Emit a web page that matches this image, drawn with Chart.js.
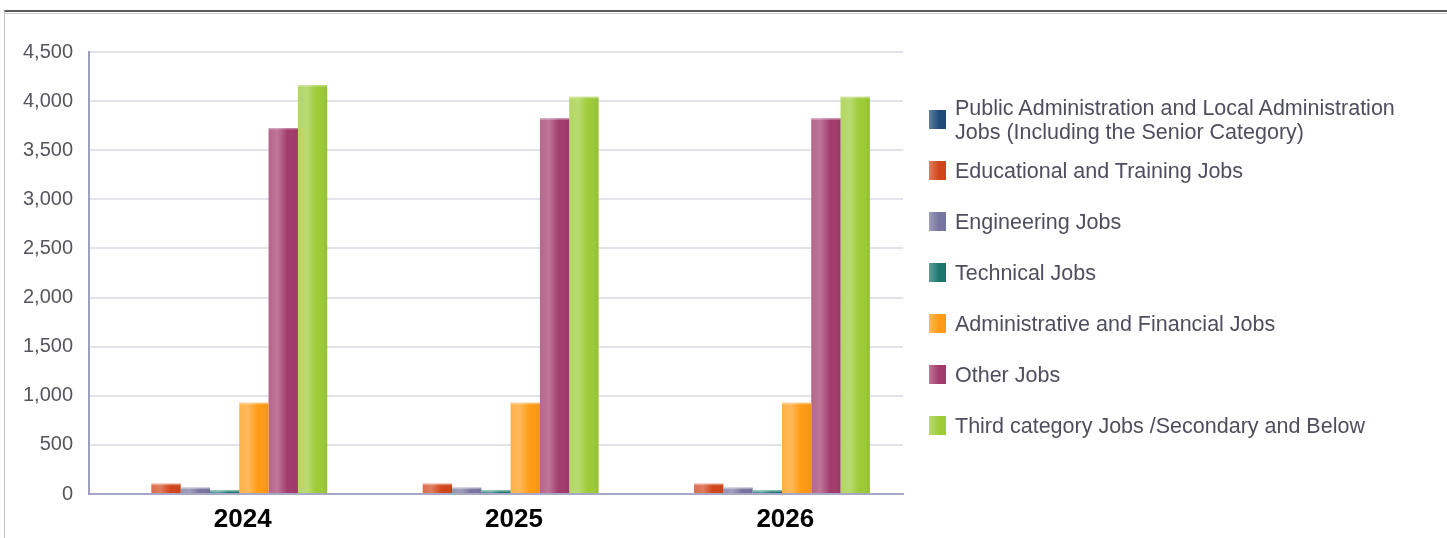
<!DOCTYPE html>
<html>
<head>
<meta charset="utf-8">
<script src="https://cdn.jsdelivr.net/npm/chart.js@4.4.1/dist/chart.umd.min.js"></script>
<style>
  html, body { margin: 0; padding: 0; background: #fff; }
  body { width: 1447px; height: 538px; position: relative; overflow: hidden; font-family: Arial, "Liberation Sans", sans-serif; }
  #frame { position: absolute; left: 4px; top: 10px; right: 0; bottom: 0; border-top: 2px solid #5c5c5c; border-left: 1px solid #c4c4c4; }
  #frame::after { content: ""; position: absolute; left: 0; right: 0; top: 1px; border-top: 1px solid #cfcfcf; }
  #chartWrap { position: absolute; left: 0; top: 0; width: 1447px; height: 538px; }
  #legend { position: absolute; left: 929px; top: 94px; }
  .item { display: flex; align-items: center; height: 51px; }
  .box { width: 17px; height: 19px; margin-right: 9px; flex: none; }
  .label { font-size: 21.5px; line-height: 24px; color: #4e4e5e; }
</style>
</head>
<body>
<div id="frame"></div>
<div id="chartWrap"><canvas id="jobsChart"></canvas></div>
<div id="legend"></div>
<script>
const years = ["2024", "2025", "2026"];
const seriesNames = [
  "Public Administration and Local Administration\nJobs (Including the Senior Category)",
  "Educational and Training Jobs",
  "Engineering Jobs",
  "Technical Jobs",
  "Administrative and Financial Jobs",
  "Other Jobs",
  "Third category Jobs /Secondary and Below"
];
const publicAdmin = [0, 0, 0];
const educational = [105, 105, 105];
const engineering = [65, 65, 65];
const technical = [38, 38, 38];
const adminFinancial = [928, 928, 928];
const otherJobs = [3727, 3826, 3826];
const thirdCategory = [4163, 4044, 4044];
const yTicks = [0, 500, 1000, 1500, 2000, 2500, 3000, 3500, 4000, 4500];

const colors = ["#1f4a7a", "#d2451a", "#75759f", "#1b776e", "#ff9b14", "#a23b6b", "#9dcb37"];
const seriesValues = [publicAdmin, educational, engineering, technical, adminFinancial, otherJobs, thirdCategory];

// shiny highlight on each bar, like the original
const barShine = {
  id: "barShine",
  afterDatasetsDraw(chart) {
    const ctx = chart.ctx;
    chart.data.datasets.forEach((ds, i) => {
      chart.getDatasetMeta(i).data.forEach((bar) => {
        const left = bar.x - bar.width / 2;
        const h = bar.base - bar.y;
        if (h <= 0) return;
        const g = ctx.createLinearGradient(left, 0, left + bar.width, 0);
        g.addColorStop(0, "rgba(255,255,255,0.22)");
        g.addColorStop(0.3, "rgba(255,255,255,0.3)");
        g.addColorStop(0.65, "rgba(255,255,255,0)");
        g.addColorStop(1, "rgba(0,0,0,0.06)");
        ctx.save();
        ctx.fillStyle = g;
        ctx.fillRect(left, bar.y, bar.width, h);
        ctx.fillStyle = "rgba(255,255,255,0.35)";
        ctx.fillRect(left, bar.y, bar.width, Math.min(1.5, h));
        ctx.restore();
      });
    });
  }
};

function buildLegend() {
  const el = document.getElementById("legend");
  seriesNames.forEach((name, i) => {
    const item = document.createElement("div");
    item.className = "item";
    const box = document.createElement("div");
    box.className = "box";
    box.style.background = `linear-gradient(to right, rgba(255,255,255,0.3), rgba(255,255,255,0) 60%), ${colors[i]}`;
    const label = document.createElement("div");
    label.className = "label";
    label.innerHTML = name.split("\n").join("<br>");
    item.appendChild(box);
    item.appendChild(label);
    el.appendChild(item);
  });
}

new Chart(document.getElementById("jobsChart"), {
  type: "bar",
  data: {
    labels: years,
    datasets: seriesValues.map((values, i) => ({
      label: seriesNames[i],
      data: values,
      backgroundColor: colors[i],
      borderWidth: 0,
      barPercentage: 1,
      categoryPercentage: 0.756,
    })),
  },
  options: {
    responsive: true,
    maintainAspectRatio: false,
    animation: false,
    layout: { padding: { left: 0, right: 544, top: 52, bottom: 0 } },
    plugins: { legend: { display: false }, tooltip: { enabled: false } },
    scales: {
      x: {
        grid: { display: false, drawTicks: false },
        border: { color: "#a7a7c6", width: 2 },
        ticks: { color: "#000", font: { family: "Arial", size: 26, weight: "bold" }, padding: 10, labelOffset: 18 },
        afterFit: (scale) => { scale.height = 44; },
      },
      y: {
        min: 0,
        max: 4500,
        afterBuildTicks: (scale) => { scale.ticks = yTicks.map((v) => ({ value: v })); },
        grid: { color: "#e2e2ea", lineWidth: 2, drawTicks: false },
        border: { color: "#9e9ec0", width: 2 },
        ticks: {
          color: "#55555f",
          font: { family: "Arial", size: 20 },
          padding: 16,
          callback: (v) => v.toLocaleString("en-US"),
        },
        afterFit: (scale) => { scale.width = 89; },
      },
    },
  },
  plugins: [barShine],
});

buildLegend();
</script>
</body>
</html>
